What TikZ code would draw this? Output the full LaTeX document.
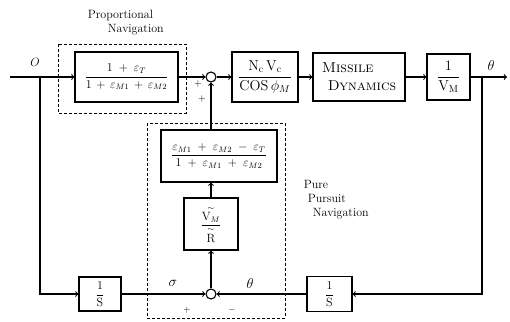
\documentclass[tikz,border=0pt]{standalone}
\usepackage{amsmath, amssymb}
\usetikzlibrary{positioning}

\begin{document}
\begin{tikzpicture}[x=1pt,y=-1pt,line width=1.1pt,
  blk/.style={draw, inner sep=2pt},
  sumj/.style={circle, draw, minimum size=10pt, inner sep=0pt},
  dbox/.style={densely dashed, line width=0.9pt},
  sig/.style={font=\Large}]

\useasboundingbox (0,0) rectangle (510,321);

% forward path
\node[blk, minimum width=103, minimum height=50, font=\large] (pn) at (126.5,77)
  {$\dfrac{1\;+\;\varepsilon_{T}}{1\,+\,\varepsilon_{M1}\,+\,\varepsilon_{M2}}$};
\node[sumj] (sum1) at (211,77) {};
\node[blk, minimum width=66, minimum height=50, font=\Large] (ncvc) at (265,77)
  {$\dfrac{\mathrm{N_c\,V_c}}{\mathrm{COS}\,\phi_{M}}$};
\node[blk, minimum width=92, minimum height=48, align=left, font=\Large] (md) at (359,77)
  {\textsc{Missile}\\ \hspace{6pt}\textsc{Dynamics}};
\node[blk, minimum width=43, minimum height=46, font=\Large] (vm) at (448.5,77)
  {$\dfrac{1}{\mathrm{V_M}}$};

% pure pursuit path
\node[blk, minimum width=116, minimum height=52, font=\large] (pp) at (219,156)
  {$\dfrac{\varepsilon_{M1}\;+\;\varepsilon_{M2}\;-\;\varepsilon_{T}}{1\;+\;\varepsilon_{M1}\;+\;\varepsilon_{M2}}$};
\node[blk, minimum width=54, minimum height=52, font=\large] (vr) at (211,224)
  {$\dfrac{\overset{\sim}{\mathrm{V}_{M}}}{\overset{\sim}{\mathrm{R}}}$};
\node[sumj] (sum2) at (211,294) {};
\node[blk, minimum width=42, minimum height=34, font=\large] (s1) at (100,294) {$\dfrac{1}{\mathrm{S}}$};
\node[blk, minimum width=45, minimum height=35, font=\large] (s2) at (329.5,294) {$\dfrac{1}{\mathrm{S}}$};

\coordinate (in) at (10,77);
\coordinate (out) at (507,77);
\coordinate (tapL) at (40,77);
\coordinate (tapR) at (482,77);

% dashed frames
\draw[dbox] (58,44) rectangle (186,113);
\draw[dbox] (147,123) rectangle (285,318);

% connectors
\draw (in) -- (tapL);
\draw[->] (tapL) -- (pn);
\draw[->] (pn) -- (sum1);
\draw[->] (sum1) -- (ncvc);
\draw[->] (ncvc) -- (md);
\draw[->] (md) -- (vm);
\draw[->] (vm) -- (out);
\draw[->] (tapL) |- (s1);
\draw[->] (s1) -- (sum2);
\draw[->] (tapR) |- (s2);
\draw[->] (s2) -- (sum2);
\draw[->] (sum2) -- (vr);
\draw[->] (vr) -- (vr.north |- pp.south);
\draw[->] (sum1 |- pp.north) -- (sum1);

% labels
\node (lblO) at (35,62) {\large$O$};
\node[sig] (lblth) at (491,65) {$\theta$};
\node[sig] (lblsig) at (173,283) {$\sigma$};
\node[sig] (lblth2) at (250,283) {$\theta$};
\node (p1) at (198,84) {$+$};
\node (p2) at (202,99) {$+$};
\node (p3) at (187,310) {\small$+$};
\node (m1) at (232,310) {\small$-$};
\node[anchor=west, align=left, font=\large] (pnlbl) at (84,23) {Proportional\\ \hspace{20pt}Navigation};
\node[anchor=west, align=left, font=\large] (pplbl) at (300,200) {Pure\\ \hspace{4pt}Pursuit\\ \hspace{9pt}Navigation};

\end{tikzpicture}
\end{document}
